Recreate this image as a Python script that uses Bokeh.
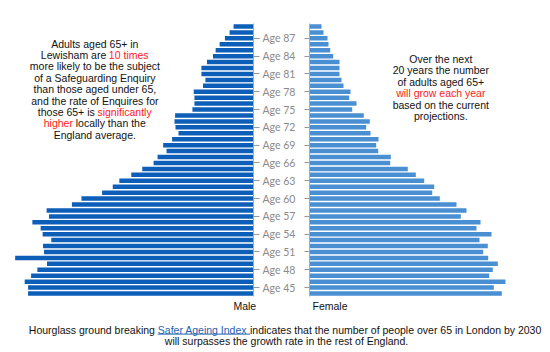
from bokeh.plotting import figure
from bokeh.layouts import column, row
from bokeh.models import Range1d, FixedTicker, LinearAxis, ColumnDataSource
from bokeh.embed import file_html
from bokeh.resources import INLINE
from bokeh.core.properties import value

# ---------------- data ----------------
ages = list(range(44, 90))
male = [2263, 2263, 2297, 2233, 2170, 2073, 2393, 2103, 2113, 2030,
        2117, 2137, 2220, 2053, 2077, 1823, 1727, 1520, 1413, 1347,
        1227, 1117, 1003, 963, 873, 907, 817, 753, 783, 793,
        787, 613, 593, 593, 600, 507, 483, 523, 523, 467,
        407, 380, 340, 287, 240, 200]
female = [1923, 1843, 1960, 1797, 1833, 1883, 1787, 1737, 1783, 1700,
          1820, 1670, 1710, 1513, 1570, 1470, 1303, 1227, 1247, 1147,
          1063, 983, 807, 813, 687, 667, 690, 610, 567, 603,
          543, 427, 470, 397, 410, 340, 320, 300, 300, 300,
          237, 207, 190, 180, 140, 120]
tick_ages = [45, 48, 51, 54, 57, 60, 63, 66, 69, 72, 75, 78, 81, 84, 87]
tick_labels = {t: f"Age {t}" for t in tick_ages}

MALE_MAX = 2540
FEMALE_MAX = 2410
AGE_LO, AGE_HI = 43.5, 89.5

K = "#111111"
R = "#ff1a1a"
B = "#1f5fae"
MALE_C = "#0d5eb8"
FEMALE_C = "#4a8fd2"

left_lines = [
    [("Adults aged 65+ in", K)],
    [("Lewisham are ", K), ("10 times", R)],
    [("more likely to be the subject", K)],
    [("of a Safeguarding Enquiry", K)],
    [("than those aged under 65,", K)],
    [("and the rate of Enquires for", K)],
    [("those 65+ is ", K), ("significantly", R)],
    [("higher", R), (" locally than the", K)],
    [("England average.", K)],
]
right_lines = [
    [("Over the next", K)],
    [("20 years the number", K)],
    [("of adults aged 65+", K)],
    [("will grow each year", R)],
    [("based on the current", K)],
    [("projections.", K)],
]
bottom_lines = [
    [("Hourglass ground breaking ", K), ("Safer Ageing Index ", B),
     ("indicates that the number of  people over 65 in London by 2030", K)],
    [("will surpasses the growth rate in the rest of England.", K)],
]

# ---------------- text metrics (Arial / Liberation Sans) ----------------
W = {' ': 278, '+': 584, ',': 278, '.': 278, '-': 333,
     'A': 667, 'B': 667, 'C': 722, 'D': 722, 'E': 667, 'F': 611, 'G': 778, 'H': 722,
     'I': 278, 'J': 500, 'K': 667, 'L': 556, 'M': 833, 'N': 722, 'O': 778, 'P': 667,
     'Q': 778, 'R': 722, 'S': 667, 'T': 611, 'U': 722, 'V': 667, 'W': 944, 'X': 667,
     'Y': 667, 'Z': 611,
     'a': 556, 'b': 556, 'c': 500, 'd': 556, 'e': 556, 'f': 278, 'g': 556, 'h': 556,
     'i': 222, 'j': 222, 'k': 500, 'l': 222, 'm': 833, 'n': 556, 'o': 556, 'p': 556,
     'q': 556, 'r': 333, 's': 500, 't': 278, 'u': 556, 'v': 500, 'w': 722, 'x': 500,
     'y': 500, 'z': 500}
FS = 10.5


def tw(s):
    return sum(W.get(c, 556) for c in s) * FS / 1000.0


def layout_lines(lines, cx, y0, step):
    xs, ys, ts, cs = [], [], [], []
    for i, pieces in enumerate(lines):
        y = y0 + i * step
        total = sum(tw(t) for t, _ in pieces)
        x = cx - total / 2
        for t, c in pieces:
            lead = len(t) - len(t.lstrip(" "))
            xs.append(x + tw(" " * lead))
            ys.append(y)
            ts.append(t.strip(" "))
            cs.append(c)
            x += tw(t)
    return xs, ys, ts, cs


# pixel geometry
ROW_H = 298
TOP = 23
BOT = 2
FRAME_H = ROW_H - TOP - BOT
MALE_FRAME_W = 254
MALE_FIG_W = 298
FEMALE_FIG_W = 550 - MALE_FIG_W
FEMALE_BORDER = 11
FEMALE_FRAME_X0 = MALE_FIG_W + FEMALE_BORDER


def py_to_age(py):
    return AGE_HI - (py - TOP) * (AGE_HI - AGE_LO) / FRAME_H


def mx(px):
    return MALE_MAX - px * MALE_MAX / MALE_FRAME_W


def fx(px):
    return (px - FEMALE_FRAME_X0) * FEMALE_MAX / (550 - FEMALE_FRAME_X0)


def style(p):
    p.outline_line_color = None
    p.background_fill_color = "white"
    p.border_fill_color = "white"


src = ColumnDataSource(dict(age=ages, male=male, female=female))

# ---------------- male ----------------
pm = figure(width=MALE_FIG_W, height=ROW_H, x_range=Range1d(MALE_MAX, 0),
            y_range=Range1d(AGE_LO, AGE_HI), x_axis_type=None, y_axis_type=None,
            output_backend="svg", toolbar_location=None,
            min_border_left=0, min_border_right=MALE_FIG_W - MALE_FRAME_W,
            min_border_top=TOP, min_border_bottom=BOT)
style(pm)
pm.hbar(y="age", left=0, right="male", height=0.76, source=src,
        fill_color=MALE_C, line_color=None)
ax = LinearAxis(ticker=FixedTicker(ticks=tick_ages), major_label_overrides=tick_labels)
ax.major_tick_in = 0
ax.major_tick_out = 6
ax.minor_tick_line_color = None
ax.axis_line_color = "#aaaaaa"
ax.major_tick_line_color = "#999999"
ax.major_label_text_font = "Lato"
ax.major_label_text_font_size = "10.5px"
ax.major_label_text_color = "#8a8a8a"
ax.major_label_standoff = 3
pm.add_layout(ax, "right")

xs, ys, ts, cs = layout_lines(left_lines, 94.5, 43.3, 11.34)
pm.text(x=[mx(v) for v in xs], y=[py_to_age(v) for v in ys], text=ts, text_color=cs,
        text_font=value("Liberation Sans"), text_font_size="10.5px",
        text_align="left", text_baseline="middle")

# ---------------- female ----------------
pf = figure(width=FEMALE_FIG_W, height=ROW_H, x_range=Range1d(0, FEMALE_MAX),
            y_range=Range1d(AGE_LO, AGE_HI), x_axis_type=None, y_axis_type=None,
            output_backend="svg", toolbar_location=None,
            min_border_left=FEMALE_BORDER, min_border_right=0,
            min_border_top=TOP, min_border_bottom=BOT)
style(pf)
pf.hbar(y="age", left=0, right="female", height=0.76, source=src,
        fill_color=FEMALE_C, line_color=None)
fax = LinearAxis(ticker=FixedTicker(ticks=tick_ages),
                 major_label_overrides={t: "" for t in tick_ages})
fax.major_tick_in = 0
fax.major_tick_out = 5
fax.minor_tick_line_color = None
fax.axis_line_color = "#aaaaaa"
fax.major_tick_line_color = "#999999"
fax.major_label_text_font_size = "1px"
fax.major_label_standoff = 0
pf.add_layout(fax, "left")

xs, ys, ts, cs = layout_lines(right_lines, 440.3, 58.3, 11.48)
pf.text(x=[fx(v) for v in xs], y=[py_to_age(v) for v in ys], text=ts, text_color=cs,
        text_font=value("Liberation Sans"), text_font_size="10.5px",
        text_align="left", text_baseline="middle")

# ---------------- bottom ----------------
BH = 352 - ROW_H
pb = figure(width=550, height=BH, x_range=Range1d(0, 550), y_range=Range1d(BH, 0),
            x_axis_type=None, y_axis_type=None, output_backend="svg",
            toolbar_location=None, min_border=0)
style(pb)
pb.text(x=[244.3, 329.5], y=[305.7 - ROW_H, 305.7 - ROW_H], text=["Male", "Female"],
        text_color=K, text_font=value("Liberation Sans"), text_font_size="10.5px",
        text_align="center", text_baseline="middle")
xs, ys, ts, cs = layout_lines(bottom_lines, 286.0, 329.3 - ROW_H, 11.0)
pb.text(x=xs, y=ys, text=ts, text_color=cs,
        text_font=value("Liberation Sans"), text_font_size="10.5px",
        text_align="left", text_baseline="middle")
link_x0 = xs[1]
link_x1 = link_x0 + tw(bottom_lines[0][1][0])
pb.segment(x0=[link_x0], y0=[333.6 - ROW_H], x1=[link_x1], y1=[333.6 - ROW_H],
           line_color=B, line_width=1)

layout = column(row(pm, pf), pb)
open("out.html", "w").write(file_html(layout, INLINE))
